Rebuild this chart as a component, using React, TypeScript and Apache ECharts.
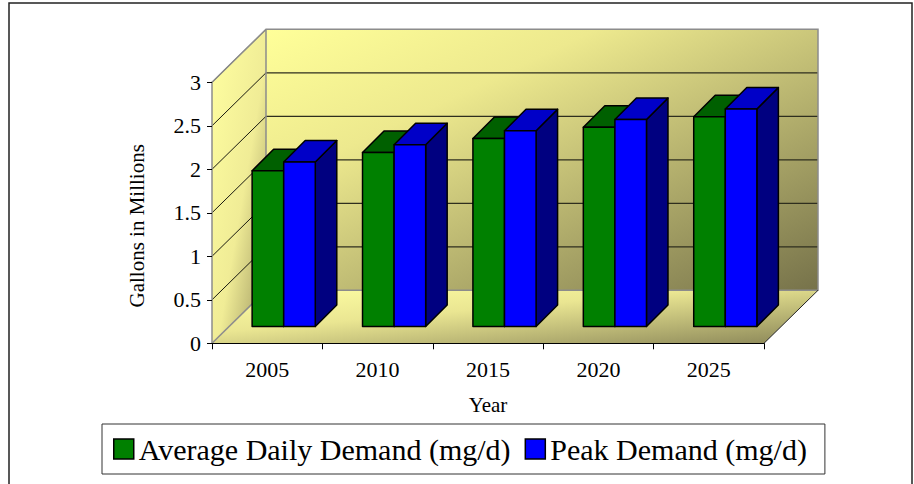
import React, { useEffect, useRef } from 'react';
import * as echarts from 'echarts';

const years = ['2005', '2010', '2015', '2020', '2025'];
const averageDaily = [1.79, 2.0, 2.16, 2.29, 2.41];
const peakDemand = [1.89, 2.09, 2.25, 2.38, 2.5];
const seriesNames = ['Average Daily Demand (mg/d)', 'Peak Demand (mg/d)'];
const yMin = 0;
const yMax = 3;
const yStep = 0.5;

const FONT = "'Liberation Serif', 'Times New Roman', serif";
const DX = 54;
const DY = -53;
const BAR_FRONT_X = 16.5;
const BAR_FRONT_Y = -16.8;
const BAR_DEPTH = 21.5;
const BAR_FRAC = 0.286;

const faceColors = [
  { front: '#008000', top: '#006000', side: '#004000' },
  { front: '#0000FF', top: '#0000C8', side: '#000080' },
];

function renderWalls(params: any, api: any) {
  const band = api.size([1, 0])[0];
  const n = years.length;
  const L = api.coord([0, yMin])[0] - band / 2;
  const R = api.coord([n - 1, yMin])[0] + band / 2;
  const y0 = api.coord([0, yMin])[1];
  const yT = api.coord([0, yMax])[1];
  const children: any[] = [];
  children.push({
    type: 'polygon',
    shape: { points: [[L, yT], [L + DX, yT + DY], [L + DX, y0 + DY], [L, y0]] },
    style: {
      fill: new echarts.graphic.LinearGradient(0, 0, 1, 1, [
        { offset: 0, color: '#FFFFA0' },
        { offset: 0.55, color: '#F0EC96' },
        { offset: 1, color: '#9C9660' },
      ]),
    },
  });
  children.push({
    type: 'polygon',
    shape: { points: [[L + DX, yT + DY], [R + DX, yT + DY], [R + DX, y0 + DY], [L + DX, y0 + DY]] },
    style: {
      fill: new echarts.graphic.LinearGradient(0, 0, 1, 1, [
        { offset: 0, color: '#FFFF99' },
        { offset: 0.3, color: '#EDE98E' },
        { offset: 1, color: '#76724A' },
      ]),
    },
  });
  children.push({
    type: 'polygon',
    shape: { points: [[L, y0], [R, y0], [R + DX, y0 + DY], [L + DX, y0 + DY]] },
    style: {
      fill: new echarts.graphic.LinearGradient(0, 0, 1, 1, [
        { offset: 0, color: '#FFFFA4' },
        { offset: 0.4, color: '#EAE692' },
        { offset: 1, color: '#8A8658' },
      ]),
    },
  });
  for (let v = yMin + yStep; v <= yMax + 1e-9; v += yStep) {
    const y = api.coord([0, v])[1];
    if (v < yMax - 1e-9) {
      children.push({
        type: 'line',
        shape: { x1: L + DX, y1: y + DY, x2: R + DX, y2: y + DY },
        style: { stroke: '#2E2E1E', lineWidth: 1.2 },
      });
    }
    children.push({
      type: 'line',
      shape: { x1: L, y1: y, x2: L + DX, y2: y + DY },
      style: { stroke: '#1A1A10', lineWidth: 1 },
    });
  }
  const gray = { stroke: '#8C8C8C', lineWidth: 1.5, fill: 'none' };
  children.push({
    type: 'polyline',
    shape: { points: [[L, yT], [L + DX, yT + DY], [R + DX, yT + DY], [R + DX, y0 + DY], [L + DX, y0 + DY], [L + DX, yT + DY]] },
    style: gray,
  });
  children.push({
    type: 'line',
    shape: { x1: L, y1: y0, x2: L + DX, y2: y0 + DY },
    style: { stroke: '#8C8C8C', lineWidth: 1.5 },
  });
  children.push({
    type: 'line',
    shape: { x1: R, y1: y0, x2: R + DX, y2: y0 + DY },
    style: { stroke: '#222', lineWidth: 1 },
  });
  return { type: 'group', children };
}

const makeBarRenderer = (slot: number) => (params: any, api: any) => {
  const idx = api.value(0);
  const v = api.value(1);
  const band = api.size([1, 0])[0];
  const bw = band * BAR_FRAC;
  const base = api.coord([idx, yMin]);
  const top = api.coord([idx, v]);
  const x0 = base[0] - bw + slot * bw + BAR_FRONT_X;
  const x1 = x0 + bw;
  const yb = base[1] + BAR_FRONT_Y;
  const yt = top[1] + BAR_FRONT_Y;
  const d = BAR_DEPTH;
  const c = faceColors[slot];
  const stroke = { stroke: '#000', lineWidth: 1.5, lineJoin: 'round' };
  return {
    type: 'group',
    children: [
      { type: 'polygon', shape: { points: [[x1, yb], [x1 + d, yb - d], [x1 + d, yt - d], [x1, yt]] }, style: { fill: c.side, ...stroke } },
      { type: 'polygon', shape: { points: [[x0, yt], [x1, yt], [x1 + d, yt - d], [x0 + d, yt - d]] }, style: { fill: c.top, ...stroke } },
      { type: 'rect', shape: { x: x0, y: yt, width: bw, height: yb - yt }, style: { fill: c.front, ...stroke } },
    ],
  };
};

export default function App() {
  const ref = useRef<HTMLDivElement>(null);
  useEffect(() => {
    if (!ref.current) return;
    const chart = echarts.init(ref.current, undefined, { renderer: 'svg' });
    chart.setOption({
      animation: false,
      backgroundColor: '#FFFFFF',
      textStyle: { fontFamily: FONT },
      grid: { left: 212, top: 82.3, width: 552, height: 261 },
      legend: {
        data: seriesNames,
        left: 102,
        top: 424,
        orient: 'horizontal',
        padding: [10, 18, 10, 11],
        itemGap: 14,
        itemWidth: 20,
        itemHeight: 20,
        icon: 'rect',
        borderColor: '#333',
        borderWidth: 1,
        itemStyle: { borderColor: '#000', borderWidth: 1.5 },
        textStyle: { fontSize: 30, fontFamily: FONT, color: '#000' },
        selectedMode: false,
      },
      xAxis: {
        type: 'category',
        data: years,
        boundaryGap: true,
        z: 10,
        axisLine: { show: true, lineStyle: { color: '#000', width: 1 } },
        axisTick: { show: true, length: 6, lineStyle: { color: '#000' } },
        axisLabel: { fontSize: 22, fontFamily: FONT, color: '#000', margin: 15 },
        name: 'Year',
        nameLocation: 'middle',
        nameGap: 51,
        nameTextStyle: { fontSize: 21, fontFamily: FONT, color: '#000' },
      },
      yAxis: {
        type: 'value',
        min: yMin,
        max: yMax,
        interval: yStep,
        z: 10,
        axisLine: { show: true, lineStyle: { color: '#8C8C8C', width: 1.5 } },
        axisTick: { show: true, length: 5, lineStyle: { color: '#000' } },
        splitLine: { show: false },
        axisLabel: { fontSize: 22, fontFamily: FONT, color: '#000', margin: 11 },
        name: 'Gallons in Millions',
        nameLocation: 'middle',
        nameRotate: 90,
        nameGap: 65,
        nameTextStyle: { fontSize: 21, fontFamily: FONT, color: '#000', padding: [0, 26, 0, 0] },
      },
      graphic: [
        {
          type: 'rect',
          shape: { x: 9, y: 3, width: 903, height: 495 },
          style: { fill: 'none', stroke: '#222', lineWidth: 1.5 },
          z: 100,
        },
      ],
      series: [
        {
          type: 'custom',
          name: 'walls',
          silent: true,
          clip: false,
          z: 1,
          renderItem: renderWalls,
          data: [[0, 0]],
          encode: { x: 0, y: 1 },
        },
        {
          type: 'custom',
          name: seriesNames[0],
          clip: false,
          z: 3,
          itemStyle: { color: faceColors[0].front },
          renderItem: makeBarRenderer(0),
          data: years.map((_, i) => [i, averageDaily[i]]),
          encode: { x: 0, y: 1 },
        },
        {
          type: 'custom',
          name: seriesNames[1],
          clip: false,
          z: 4,
          itemStyle: { color: faceColors[1].front },
          renderItem: makeBarRenderer(1),
          data: years.map((_, i) => [i, peakDemand[i]]),
          encode: { x: 0, y: 1 },
        },
      ],
    });
    return () => chart.dispose();
  }, []);
  return (
    <div
      ref={ref}
      style={{ position: 'absolute', left: 0, top: 0, width: 914, height: 484, background: '#fff' }}
    />
  );
}
